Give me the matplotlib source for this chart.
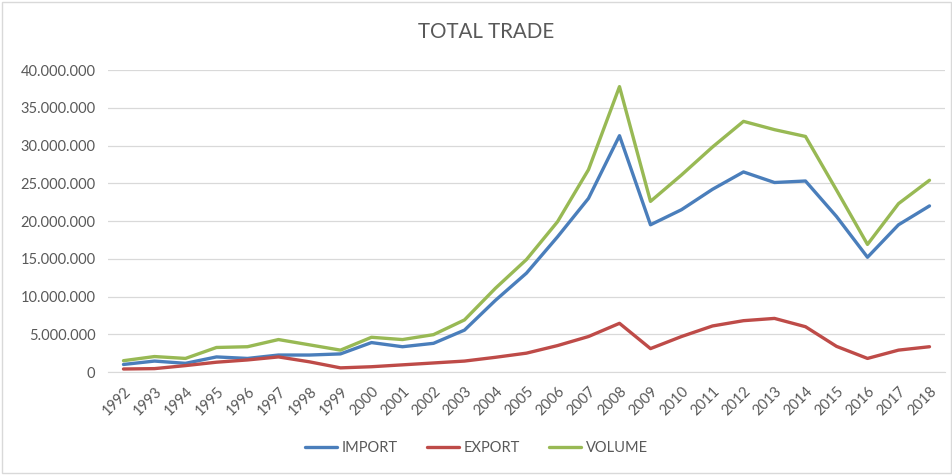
import numpy as np
import matplotlib.pyplot as plt
from matplotlib.ticker import FuncFormatter
from matplotlib.patches import Rectangle

plt.rcParams['font.family'] = ['Lato', 'DejaVu Sans']

years = [str(y) for y in range(1992, 2019)]

# values (in millions)
imports = [1.0, 1.45, 1.15, 2.0, 1.8, 2.25, 2.25, 2.4, 3.9, 3.35, 3.8, 5.55, 9.5, 13.1,
           17.9, 23.0, 31.3, 19.5, 21.5, 24.2, 26.5, 25.1, 25.3, 20.6, 15.2, 19.5, 22.0]
exports = [0.4, 0.45, 0.85, 1.3, 1.6, 2.0, 1.35, 0.55, 0.7, 0.95, 1.2, 1.45, 1.95, 2.5,
           3.5, 4.7, 6.45, 3.1, 4.7, 6.1, 6.8, 7.1, 6.0, 3.4, 1.8, 2.9, 3.35]
volume = [1.5, 2.05, 1.8, 3.25, 3.35, 4.3, 3.6, 2.9, 4.6, 4.3, 4.95, 6.9, 11.1, 14.9,
          19.9, 26.8, 37.8, 22.6, 26.1, 29.8, 33.2, 32.1, 31.2, 24.1, 16.9, 22.3, 25.4]

series = [("IMPORT", imports, "#4a7ebb"),
          ("EXPORT", exports, "#be4b48"),
          ("VOLUME", volume, "#98b954")]

fig = plt.figure(figsize=(9.53, 4.75), dpi=100)
ax = fig.add_axes([0.1133, 0.2168, 0.8783, 0.6358])

x = np.arange(len(years))
for name, vals, col in series:
    ax.plot(x, np.array(vals) * 1e6, color=col, lw=2.4, label=name,
            solid_joinstyle='round', solid_capstyle='round')

ax.set_xlim(-0.5, len(years) - 0.5)
ax.set_ylim(0, 40e6)
ax.set_yticks(np.arange(0, 40e6 + 1, 5e6))
ax.yaxis.set_major_formatter(FuncFormatter(lambda v, p: f"{int(v):,}".replace(",", ".")))
ax.set_xticks(x)
ax.set_xticklabels(years, rotation=45, ha='right', rotation_mode='anchor')
ax.tick_params(axis='both', length=0, colors='#595959', labelsize=10.5)
ax.tick_params(axis='x', pad=9)
ax.tick_params(axis='y', pad=9)

ax.grid(axis='y', color='#d9d9d9', lw=0.9)
ax.set_axisbelow(True)
for s in ['top', 'right', 'left']:
    ax.spines[s].set_visible(False)
ax.spines['bottom'].set_color('#d9d9d9')

fig.text(0.5105, 0.932, "TOTAL TRADE", ha='center', va='center', fontsize=14.8, color='#595959')

fig.legend(loc='center', bbox_to_anchor=(0.5, 0.057), ncol=3, frameon=False,
           fontsize=10.5, labelcolor='#595959', handlelength=2.2, columnspacing=2.0,
           handletextpad=0.3)

fig.patches.append(Rectangle((0.002, 0.004), 0.996, 0.992, transform=fig.transFigure,
                             fill=False, edgecolor='#d9d9d9', lw=1))

fig.savefig('out.png', dpi=100, facecolor='white')
